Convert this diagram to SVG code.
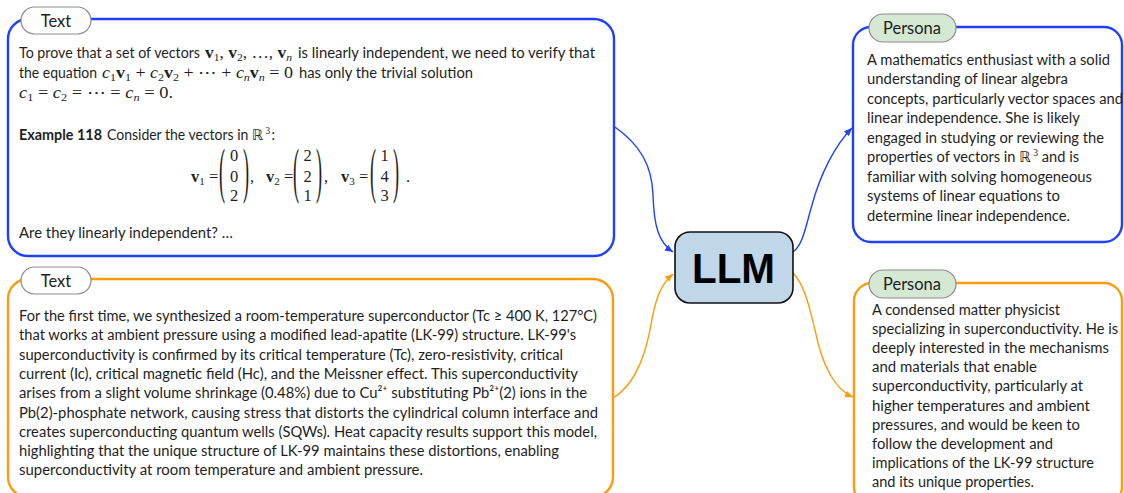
<svg xmlns="http://www.w3.org/2000/svg" width="1124" height="493" viewBox="0 0 1124 493">
<style>
.t{font-family:Lato,"Open Sans","Liberation Sans",sans-serif;font-size:14.5px;fill:#1e1e1e}
.m{font-family:"Liberation Serif","DejaVu Serif",serif;font-size:16.5px;fill:#1e1e1e}
.sb{font-size:11px}
.sup{font-family:"Liberation Serif","DejaVu Serif",serif;font-size:9.5px;fill:#1e1e1e}
.dj{font-family:"DejaVu Sans",sans-serif}
.i{font-style:italic}
.b{font-weight:bold}
.lbl{font-family:Lato,"Open Sans","Liberation Sans",sans-serif;font-size:16.5px;fill:#1e1e1e;text-anchor:middle}
.box{fill:#fff;stroke-width:2.4}
.blue{stroke:#1f40ff}
.orange{stroke:#ff9a0d}
.pill{fill:#fff;stroke:#8c8c8c;stroke-width:1.2}
.pg{fill:#d5e8d4;stroke:#8c8c8c;stroke-width:1.2}
.edge{fill:none;stroke-width:1.4}
</style>
<defs>
<marker id="ab" markerUnits="userSpaceOnUse" markerWidth="9" markerHeight="8" refX="8" refY="4" orient="auto"><path d="M0,0.5 L8,4 L0,7.5 z" fill="#1f40ff"/></marker>
<marker id="ao" markerUnits="userSpaceOnUse" markerWidth="9" markerHeight="8" refX="8" refY="4" orient="auto"><path d="M0,0.5 L8,4 L0,7.5 z" fill="#ff9a0d"/></marker>
</defs>

<g id="connectors">
<path class="edge blue" d="M615,127 C640,145 652,165 653,195 C654,225 658,242 673,252" marker-end="url(#ab)"/>
<path class="edge orange" d="M613,398 C635,385 645,355 650,330 C655,300 660,285 673,274" marker-end="url(#ao)"/>
<path class="edge blue" d="M793,252 C803,245 806,225 812,205 C820,175 835,145 852,128" marker-end="url(#ab)"/>
<path class="edge orange" d="M793,273 C805,285 810,310 815,330 C822,365 835,390 853,397" marker-end="url(#ao)"/>
</g>

<g id="text-math">
<rect class="box blue" x="8" y="19" width="606" height="237" rx="20"/>
<rect class="pill" x="21" y="7" width="70" height="27" rx="13.5"/>
<text class="lbl" x="56" y="26.5">Text</text>
<text class="t" x="19" y="58" textLength="181" lengthAdjust="spacingAndGlyphs">To prove that a set of vectors</text>
<text class="m" x="205" y="58" textLength="87" lengthAdjust="spacingAndGlyphs"><tspan class="b">v</tspan><tspan class="sb" dy="3">1</tspan><tspan dy="-3">, </tspan><tspan class="b">v</tspan><tspan class="sb" dy="3">2</tspan><tspan dy="-3">, …, </tspan><tspan class="b">v</tspan><tspan class="sb i" dy="3">n</tspan></text>
<text class="t" x="298" y="58" textLength="297" lengthAdjust="spacingAndGlyphs">is linearly independent, we need to verify that</text>
<text class="t" x="19" y="78" textLength="78" lengthAdjust="spacingAndGlyphs">the equation</text>
<text class="m" x="102" y="78" textLength="191" lengthAdjust="spacingAndGlyphs"><tspan class="i">c</tspan><tspan class="sb" dy="3">1</tspan><tspan class="b" dy="-3">v</tspan><tspan class="sb" dy="3">1</tspan><tspan dy="-3"> + </tspan><tspan class="i">c</tspan><tspan class="sb" dy="3">2</tspan><tspan class="b" dy="-3">v</tspan><tspan class="sb" dy="3">2</tspan><tspan dy="-3"> + ⋯ + </tspan><tspan class="i">c</tspan><tspan class="sb i" dy="3">n</tspan><tspan class="b" dy="-3">v</tspan><tspan class="sb i" dy="3">n</tspan><tspan dy="-3"> = 0</tspan></text>
<text class="t" x="299" y="78" textLength="174" lengthAdjust="spacingAndGlyphs">has only the trivial solution</text>
<text class="m" x="19" y="98" textLength="154" lengthAdjust="spacingAndGlyphs"><tspan class="i">c</tspan><tspan class="sb" dy="3">1</tspan><tspan dy="-3"> = </tspan><tspan class="i">c</tspan><tspan class="sb" dy="3">2</tspan><tspan dy="-3"> = ⋯ = </tspan><tspan class="i">c</tspan><tspan class="sb i" dy="3">n</tspan><tspan dy="-3"> = 0.</tspan></text>
<text class="t b" x="19" y="140" textLength="83" lengthAdjust="spacingAndGlyphs">Example 118</text>
<text class="t" x="107" y="140" textLength="168" lengthAdjust="spacingAndGlyphs">Consider the vectors in <tspan class="dj">ℝ</tspan><tspan class="sup" dx="2.5" dy="-6">3</tspan><tspan dx="1.5" dy="6">:</tspan></text>
<g id="vectors">
<text class="m" x="191" y="182"><tspan class="b">v</tspan><tspan class="sb" dy="3">1</tspan><tspan dy="-3"> =</tspan></text>
<text class="m" text-anchor="middle" transform="translate(222,190.5) scale(1.1,3.7)">(</text>
<text class="m" text-anchor="middle" x="234" y="161">0</text>
<text class="m" text-anchor="middle" x="234" y="182">0</text>
<text class="m" text-anchor="middle" x="234" y="201">2</text>
<text class="m" text-anchor="middle" transform="translate(246,190.5) scale(1.1,3.7)">)</text>
<text class="m" x="250" y="182">,</text>
<text class="m" x="266" y="182"><tspan class="b">v</tspan><tspan class="sb" dy="3">2</tspan><tspan dy="-3"> =</tspan></text>
<text class="m" text-anchor="middle" transform="translate(296,190.5) scale(1.1,3.7)">(</text>
<text class="m" text-anchor="middle" x="307.5" y="161">2</text>
<text class="m" text-anchor="middle" x="307.5" y="182">2</text>
<text class="m" text-anchor="middle" x="307.5" y="201">1</text>
<text class="m" text-anchor="middle" transform="translate(319,190.5) scale(1.1,3.7)">)</text>
<text class="m" x="324" y="182">,</text>
<text class="m" x="341" y="182"><tspan class="b">v</tspan><tspan class="sb" dy="3">3</tspan><tspan dy="-3"> =</tspan></text>
<text class="m" text-anchor="middle" transform="translate(373,190.5) scale(1.1,3.7)">(</text>
<text class="m" text-anchor="middle" x="384.5" y="161">1</text>
<text class="m" text-anchor="middle" x="384.5" y="182">4</text>
<text class="m" text-anchor="middle" x="384.5" y="201">3</text>
<text class="m" text-anchor="middle" transform="translate(396,190.5) scale(1.1,3.7)">)</text>
<text class="m" x="406" y="182">.</text>
</g>
<text class="t" x="19" y="238" textLength="214" lengthAdjust="spacingAndGlyphs">Are they linearly independent? …</text>
</g>

<g id="text-lk99">
<rect class="box orange" x="8" y="279" width="605" height="218" rx="20"/>
<rect class="pill" x="21" y="267" width="70" height="27" rx="13.5"/>
<text class="lbl" x="56" y="286.5">Text</text>
<text class="t" x="19" y="321" textLength="578" lengthAdjust="spacingAndGlyphs">For the first time, we synthesized a room-temperature superconductor (Tc ≥ 400 K, 127°C)</text>
<text class="t" x="19" y="340.3" textLength="557" lengthAdjust="spacingAndGlyphs">that works at ambient pressure using a modified lead-apatite (LK-99) structure. LK-99's</text>
<text class="t" x="19" y="359.6" textLength="544" lengthAdjust="spacingAndGlyphs">superconductivity is confirmed by its critical temperature (Tc), zero-resistivity, critical</text>
<text class="t" x="19" y="378.9" textLength="559" lengthAdjust="spacingAndGlyphs">current (Ic), critical magnetic field (Hc), and the Meissner effect. This superconductivity</text>
<text class="t" x="19" y="398.2" textLength="568" lengthAdjust="spacingAndGlyphs">arises from a slight volume shrinkage (0.48%) due to Cu²⁺ substituting Pb²⁺(2) ions in the</text>
<text class="t" x="19" y="417.5" textLength="579" lengthAdjust="spacingAndGlyphs">Pb(2)-phosphate network, causing stress that distorts the cylindrical column interface and</text>
<text class="t" x="19" y="436.8" textLength="578" lengthAdjust="spacingAndGlyphs">creates superconducting quantum wells (SQWs). Heat capacity results support this model,</text>
<text class="t" x="19" y="456.1" textLength="540" lengthAdjust="spacingAndGlyphs">highlighting that the unique structure of LK-99 maintains these distortions, enabling</text>
<text class="t" x="19" y="475.4" textLength="404" lengthAdjust="spacingAndGlyphs">superconductivity at room temperature and ambient pressure.</text>
</g>

<g id="llm">
<rect x="675" y="232" width="118" height="71" rx="15" fill="#bfd7e8" stroke="#111" stroke-width="1.6"/>
<text x="733.5" y="283" text-anchor="middle" font-family="Liberation Sans,Arial,sans-serif" font-weight="bold" font-size="43" fill="#000" textLength="83" lengthAdjust="spacingAndGlyphs">LLM</text>
</g>

<g id="persona-math">
<rect class="box blue" x="853" y="27" width="269" height="215" rx="18"/>
<rect class="pg" x="869" y="14" width="87" height="28" rx="14"/>
<text class="lbl" x="912" y="34">Persona</text>
<text class="t" x="867" y="64.5" textLength="243" lengthAdjust="spacingAndGlyphs">A mathematics enthusiast with a solid</text>
<text class="t" x="867" y="84" textLength="201" lengthAdjust="spacingAndGlyphs">understanding of linear algebra</text>
<text class="t" x="867" y="103.5" textLength="256" lengthAdjust="spacingAndGlyphs">concepts, particularly vector spaces and</text>
<text class="t" x="867" y="123" textLength="213" lengthAdjust="spacingAndGlyphs">linear independence. She is likely</text>
<text class="t" x="867" y="142.5" textLength="237" lengthAdjust="spacingAndGlyphs">engaged in studying or reviewing the</text>
<text class="t" x="867" y="162" textLength="212" lengthAdjust="spacingAndGlyphs">properties of vectors in <tspan class="dj">ℝ</tspan><tspan class="sup" dx="2.5" dy="-6">3</tspan><tspan dy="6"> and is</tspan></text>
<text class="t" x="867" y="181.5" textLength="225" lengthAdjust="spacingAndGlyphs">familiar with solving homogeneous</text>
<text class="t" x="867" y="201" textLength="193" lengthAdjust="spacingAndGlyphs">systems of linear equations to</text>
<text class="t" x="867" y="220.5" textLength="203" lengthAdjust="spacingAndGlyphs">determine linear independence.</text>
</g>

<g id="persona-physics">
<rect class="box orange" x="854" y="283" width="268" height="222" rx="18"/>
<rect class="pg" x="869" y="270" width="87" height="28" rx="14"/>
<text class="lbl" x="912" y="290">Persona</text>
<text class="t" x="872" y="314.5" textLength="188" lengthAdjust="spacingAndGlyphs">A condensed matter physicist</text>
<text class="t" x="872" y="333.7" textLength="246" lengthAdjust="spacingAndGlyphs">specializing in superconductivity. He is</text>
<text class="t" x="872" y="352.9" textLength="237" lengthAdjust="spacingAndGlyphs">deeply interested in the mechanisms</text>
<text class="t" x="872" y="372.1" textLength="165" lengthAdjust="spacingAndGlyphs">and materials that enable</text>
<text class="t" x="872" y="391.3" textLength="211" lengthAdjust="spacingAndGlyphs">superconductivity, particularly at</text>
<text class="t" x="872" y="410.5" textLength="218" lengthAdjust="spacingAndGlyphs">higher temperatures and ambient</text>
<text class="t" x="872" y="429.7" textLength="208" lengthAdjust="spacingAndGlyphs">pressures, and would be keen to</text>
<text class="t" x="872" y="448.9" textLength="181" lengthAdjust="spacingAndGlyphs">follow the development and</text>
<text class="t" x="872" y="468.1" textLength="222" lengthAdjust="spacingAndGlyphs">implications of the LK-99 structure</text>
<text class="t" x="872" y="487.3" textLength="162" lengthAdjust="spacingAndGlyphs">and its unique properties.</text>
</g>
</svg>
